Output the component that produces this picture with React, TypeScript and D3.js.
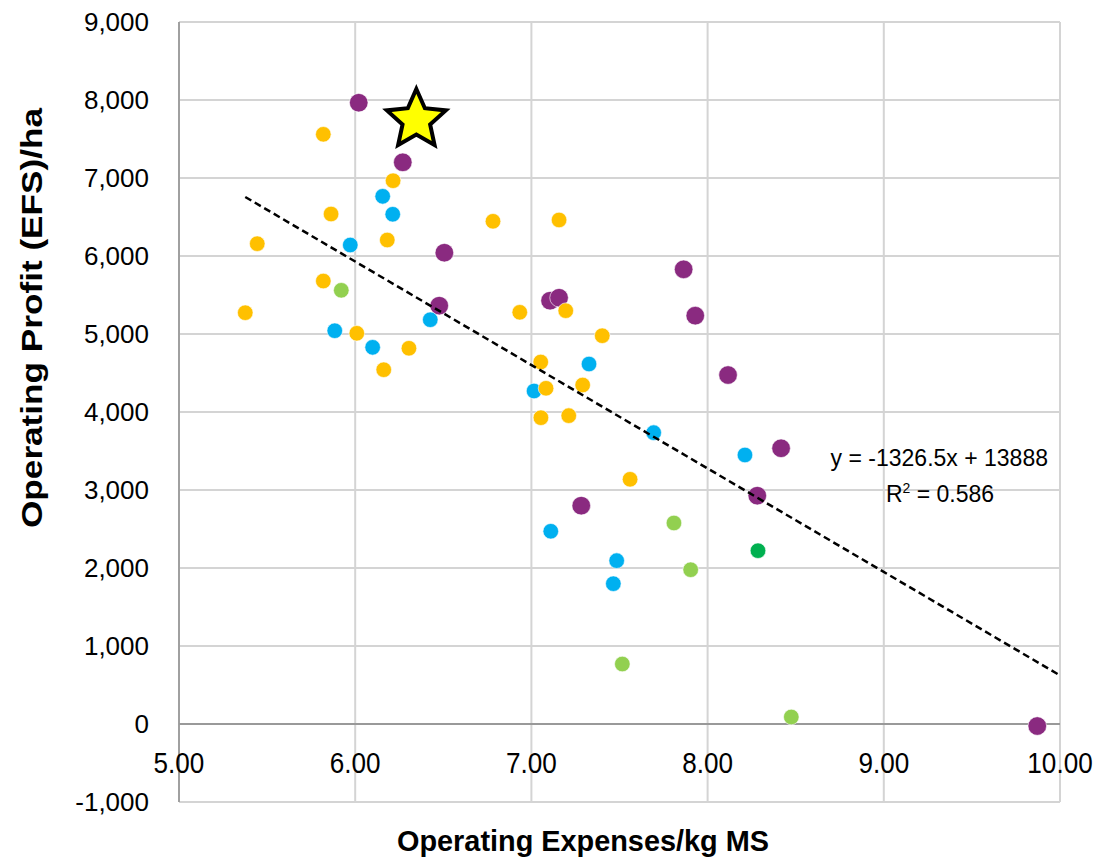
import React from "react";
import * as d3 from "d3";

// ---- Data ----
const purpleX = [6.02, 6.27, 6.506, 6.477, 7.106, 7.157, 7.864, 7.93, 8.116, 8.417, 8.282, 7.283, 9.871];
const purpleY = [7965, 7201, 6042, 5363, 5427, 5465, 5829, 5235, 4474, 3535, 2927, 2799, -26];

const blueX = [6.156, 6.213, 5.972, 5.884, 6.099, 6.426, 7.327, 7.015, 7.694, 8.212, 7.11, 7.484, 7.465];
const blueY = [6765, 6535, 6141, 5042, 4829, 5183, 4615, 4269, 3735, 3449, 2471, 2094, 1799];

const orangeX = [5.819, 6.215, 5.863, 5.444, 6.182, 5.819, 5.376, 6.009, 6.305, 6.162, 6.782, 7.157, 6.934, 7.195, 7.402, 7.053, 7.083, 7.291, 7.054, 7.212, 7.56];
const orangeY = [7560, 6965, 6538, 6158, 6205, 5679, 5273, 5009, 4817, 4542, 6445, 6462, 5278, 5299, 4978, 4641, 4304, 4346, 3927, 3953, 3137];

const lightGreenX = [5.921, 7.809, 7.904, 7.516, 8.475];
const lightGreenY = [5560, 2577, 1978, 769, 90];

const darkGreenX = [8.286];
const darkGreenY = [2222];

const starX = [6.347];
const starY = [7744];

const xTicks = [5, 6, 7, 8, 9, 10];
const yTicks = [-1000, 0, 1000, 2000, 3000, 4000, 5000, 6000, 7000, 8000, 9000];

const trendSlope = -1326.5;
const trendIntercept = 13888;
const trendRange = [5.376, 9.99];
const trendLabel = "y = -1326.5x + 13888";
const r2Label = "0.586";

const xTitle = "Operating Expenses/kg MS";
const yTitle = "Operating Profit (EFS)/ha";

// ---- Layout ----
const W = 1099;
const H = 859;
const left = 179;
const right = 1060;
const top = 22;
const bottom = 802;

const x = d3.scaleLinear().domain([5, 10]).range([left, right]);
const y = d3.scaleLinear().domain([-1000, 9000]).range([bottom, top]);

const fmtX = d3.format(".2f");
const fmtY = d3.format(",");

const series = [
  { xs: purpleX, ys: purpleY, color: "#8A2A80", r: 9.3 },
  { xs: blueX, ys: blueY, color: "#00B0F0", r: 7.8 },
  { xs: orangeX, ys: orangeY, color: "#FFC000", r: 7.8 },
  { xs: lightGreenX, ys: lightGreenY, color: "#92D050", r: 7.8 },
  { xs: darkGreenX, ys: darkGreenY, color: "#00B050", r: 7.8 },
];

function starPath(cx: number, cy: number, R: number, ri: number) {
  const pts: [number, number][] = [];
  for (let i = 0; i < 10; i++) {
    const a = -Math.PI / 2 + (i * Math.PI) / 5;
    const rr = i % 2 === 0 ? R : ri;
    pts.push([cx + rr * Math.cos(a), cy + rr * Math.sin(a)]);
  }
  return d3.line()(pts) + "Z";
}

export default function App() {
  const font = "'Liberation Sans', Arial, sans-serif";
  const trendLine = d3.line<number>()
    .x((v) => x(v))
    .y((v) => y(trendSlope * v + trendIntercept))(trendRange);

  return (
    <svg
      width={W}
      height={H}
      style={{ position: "absolute", left: 0, top: 0, background: "#fff" }}
      fontFamily={font}
    >
      {/* grid */}
      {yTicks.map((t) => (
        <line key={"gy" + t} x1={left} x2={right} y1={y(t)} y2={y(t)} stroke="#d4d4d4" strokeWidth={2} />
      ))}
      {xTicks.map((t) => (
        <line key={"gx" + t} x1={x(t)} x2={x(t)} y1={top} y2={bottom} stroke="#d4d4d4" strokeWidth={2} />
      ))}
      {/* axes */}
      <line x1={left} x2={left} y1={top} y2={bottom} stroke="#a0a0a0" strokeWidth={2} />
      <line x1={left} x2={right} y1={y(0)} y2={y(0)} stroke="#999999" strokeWidth={2} />

      {/* y tick labels */}
      {yTicks.map((t) => (
        <text key={"ly" + t} x={149} y={y(t) + 9.3} textAnchor="end" fontSize={26} fill="#000">
          {fmtY(t).replace("−", "-")}
        </text>
      ))}
      {/* x tick labels */}
      {xTicks.map((t) => (
        <g key={"lx" + t} transform={`translate(${x(t)},${y(0) + 49}) scale(0.9,1)`}>
          <text x={0} y={0} textAnchor="middle" fontSize={29} fill="#000">
            {fmtX(t)}
          </text>
        </g>
      ))}

      {/* points */}
      {series.map((s, si) => (
        <g key={"s" + si}>
          {s.xs.map((v, i) => (
            <circle key={i} cx={x(v)} cy={y(s.ys[i])} r={s.r} fill={s.color} stroke="#fff" strokeWidth={0.6} />
          ))}
        </g>
      ))}

      {/* trendline */}
      <path d={trendLine || ""} fill="none" stroke="#000" strokeWidth={2.5} strokeDasharray="7,4" />

      {/* star */}
      {starX.map((v, i) => (
        <path key={"st" + i} d={starPath(x(v), y(starY[i]), 31, 14.5)} fill="#FFFF00" stroke="#000" strokeWidth={4} strokeLinejoin="miter" />
      ))}

      {/* trend label */}
      <text x={1048} y={466} textAnchor="end" fontSize={23} fill="#000">{trendLabel}</text>
      <text x={940} y={502} textAnchor="middle" fontSize={23} fill="#000">
        R<tspan dy={-9} fontSize={14}>2</tspan><tspan dy={9}> = {r2Label}</tspan>
      </text>

      {/* titles */}
      <text x={583} y={851} textAnchor="middle" fontSize={29} fontWeight="bold" textLength={372} lengthAdjust="spacingAndGlyphs" fill="#000">
        {xTitle}
      </text>
      <text
        transform={`translate(42,${318}) rotate(-90)`}
        textAnchor="middle"
        fontSize={29}
        fontWeight="bold"
        textLength={420}
        lengthAdjust="spacingAndGlyphs"
        fill="#000"
      >
        {yTitle}
      </text>
    </svg>
  );
}
